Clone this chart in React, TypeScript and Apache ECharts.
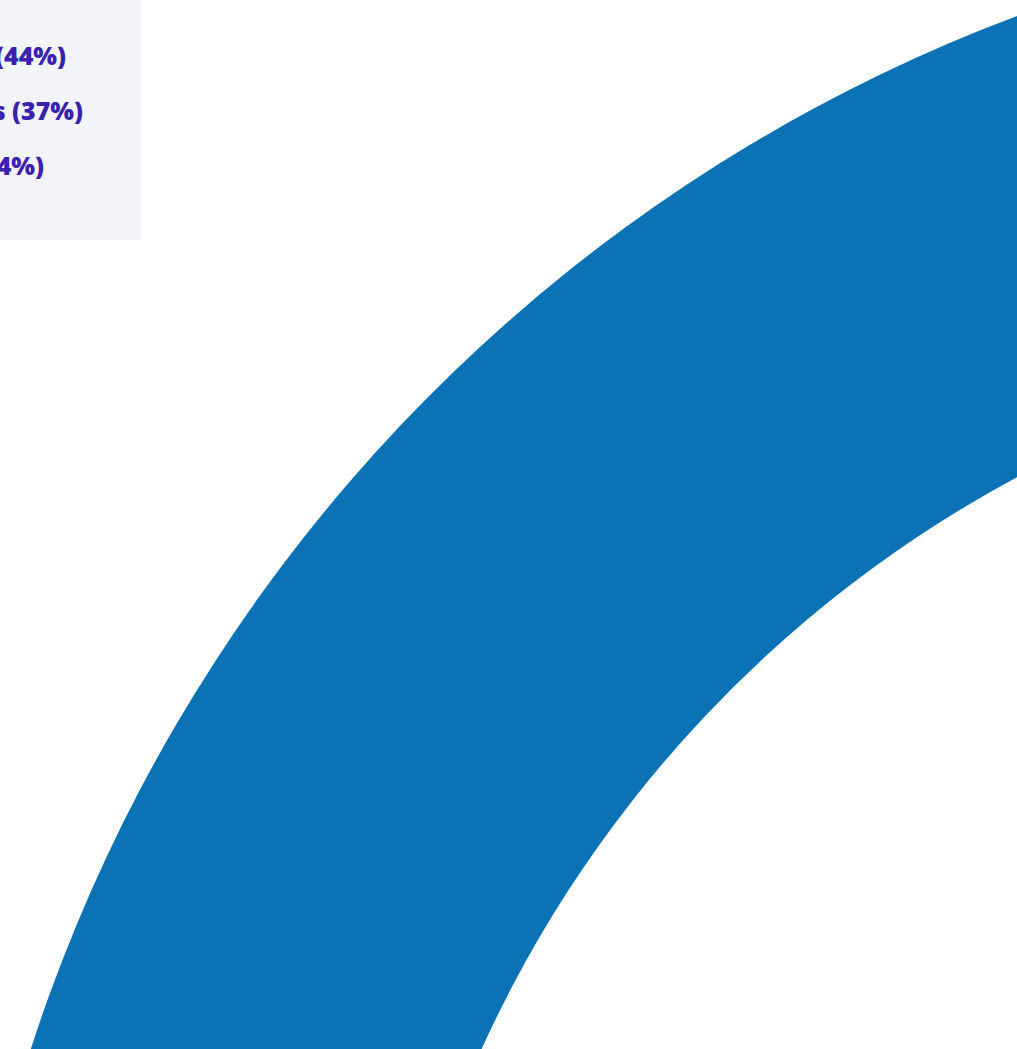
import React, { useEffect, useRef } from "react";
import * as echarts from "echarts";

// Data (only part of the donut and of its legend is visible in the reference view)
const categories: string[] = ["A", "B", "C"];
const values: number[] = [44, 37, 14];
const legendPrefixes: string[] = ["", "s ", ""];
const colors: string[] = ["#0b72b5", "#e8803a", "#3bb07a"];

export default function App() {
  const ref = useRef<HTMLDivElement>(null);

  useEffect(() => {
    if (!ref.current) return;
    const chart = echarts.init(ref.current, null, { renderer: "svg" });

    const rightEnds = [66, 83, 44];
    const centersY = [55, 110, 165];
    const legendTexts = values.map((v, i) => ({
      type: "text",
      x: rightEnds[i],
      y: centersY[i],
      style: {
        text: `${legendPrefixes[i]}(${v}%)`,
        fill: "#3a22b0",
        font: "800 25px 'Open Sans', sans-serif",
        textAlign: "right",
        textVerticalAlign: "middle",
      },
      z: 11,
    }));

    chart.setOption({
      animation: false,
      backgroundColor: "#ffffff",
      color: colors,
      series: [
        {
          type: "pie",
          center: [1595, 1555],
          radius: [1223, 1644],
          startAngle: 220,
          silent: true,
          label: { show: false },
          labelLine: { show: false },
          itemStyle: { borderWidth: 0 },
          data: categories.map((c, i) => ({ name: c, value: values[i] })),
        },
      ],
      graphic: [
        {
          type: "rect",
          shape: { x: -30, y: -30, width: 171, height: 270 },
          style: { fill: "#f3f4fa" },
          z: 10,
        },
        ...legendTexts,
      ],
    });

    return () => chart.dispose();
  }, []);

  return (
    <div
      ref={ref}
      style={{ position: "absolute", left: 0, top: 0, width: 1017, height: 1049 }}
    />
  );
}
